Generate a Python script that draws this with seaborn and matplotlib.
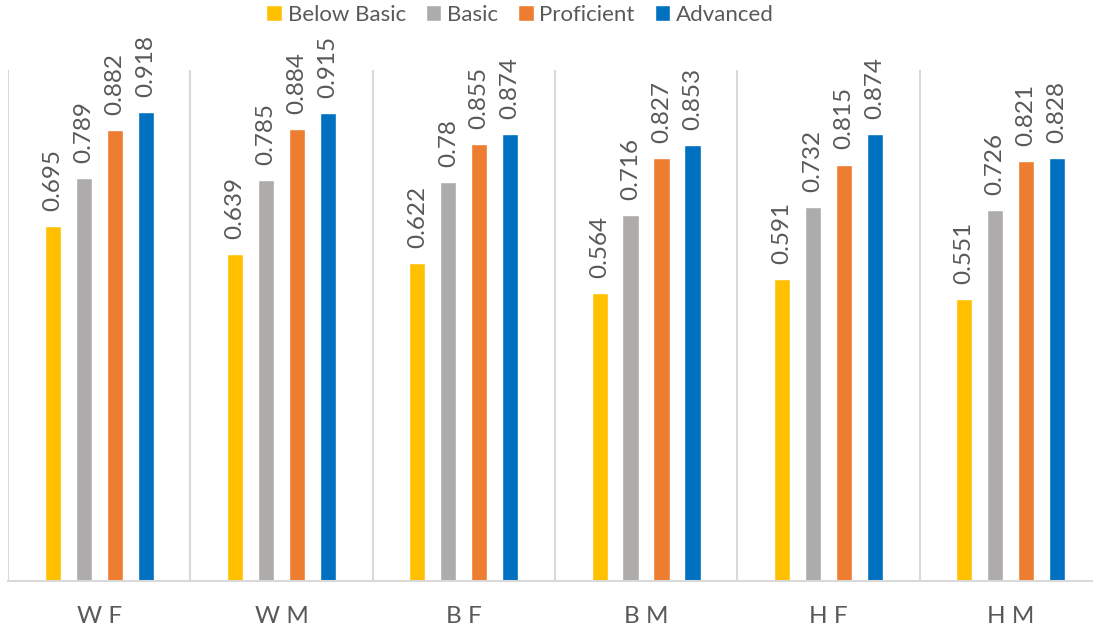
import pandas as pd
import matplotlib
matplotlib.use("Agg")
import matplotlib.pyplot as plt
import seaborn as sns

# chart data
groups = ["W F", "W M", "B F", "B M", "H F", "H M"]
levels = ["Below Basic", "Basic", "Proficient", "Advanced"]
below_basic = [0.695, 0.639, 0.622, 0.564, 0.591, 0.551]
basic = [0.789, 0.785, 0.780, 0.716, 0.732, 0.726]
proficient = [0.882, 0.884, 0.855, 0.827, 0.815, 0.821]
advanced = [0.918, 0.915, 0.874, 0.853, 0.874, 0.828]

colors = ["#FFC000", "#AEABAB", "#ED7D31", "#0070C0"]
TEXT_COLOR = "#595959"
GRID_COLOR = "#D9D9D9"

# long format for seaborn
rows = []
for level, vals in zip(levels, [below_basic, basic, proficient, advanced]):
    for g, v in zip(groups, vals):
        rows.append({"group": g, "level": level, "value": v})
df = pd.DataFrame(rows)

sns.set_style("white")
plt.rcParams["font.family"] = ["Lato", "DejaVu Sans"]

fig = plt.figure(figsize=(10.93, 6.31), dpi=100)
W, H = 1093, 631
cat_w = 182.3
ax = fig.add_axes([8 / W, (H - 581) / H, 6 * cat_w / W, (581 - 70) / H])

sns.barplot(data=df, x="group", y="value", hue="level", order=groups,
            hue_order=levels, palette=colors, width=0.68, gap=0.48,
            saturation=1, ax=ax, legend=True)

# value labels on top of each bar
for cont in ax.containers:
    ax.bar_label(cont, fmt="{:g}", rotation=90, padding=11,
                 fontsize=17.5, color=TEXT_COLOR)

# category separators
ax.vlines([i - 0.5 for i in range(len(groups) + 1)], 0, 1.0,
          colors=GRID_COLOR, linewidth=1.5, zorder=0)

ax.set_xlim(-0.5, len(groups) - 0.5)
ax.set_ylim(0, 1.0)
ax.set_yticks([])
ax.set_xlabel("")
ax.set_ylabel("")
for side in ["top", "right", "left"]:
    ax.spines[side].set_visible(False)
ax.spines["bottom"].set_color(GRID_COLOR)
ax.spines["bottom"].set_linewidth(1.5)
ax.tick_params(axis="x", length=0, pad=18, labelsize=17.5, labelcolor=TEXT_COLOR)

# legend at top
handles, labels = ax.get_legend_handles_labels()
ax.get_legend().remove()
fig.legend(handles, labels, loc="upper center", bbox_to_anchor=(520 / W, 1 - 5 / H),
           ncol=4, frameon=False, fontsize=16, labelcolor=TEXT_COLOR,
           handlelength=0.7, handleheight=0.7, handletextpad=0.25,
           columnspacing=0.9, borderaxespad=0.0, borderpad=0.0)

fig.savefig("out.png", dpi=100)
